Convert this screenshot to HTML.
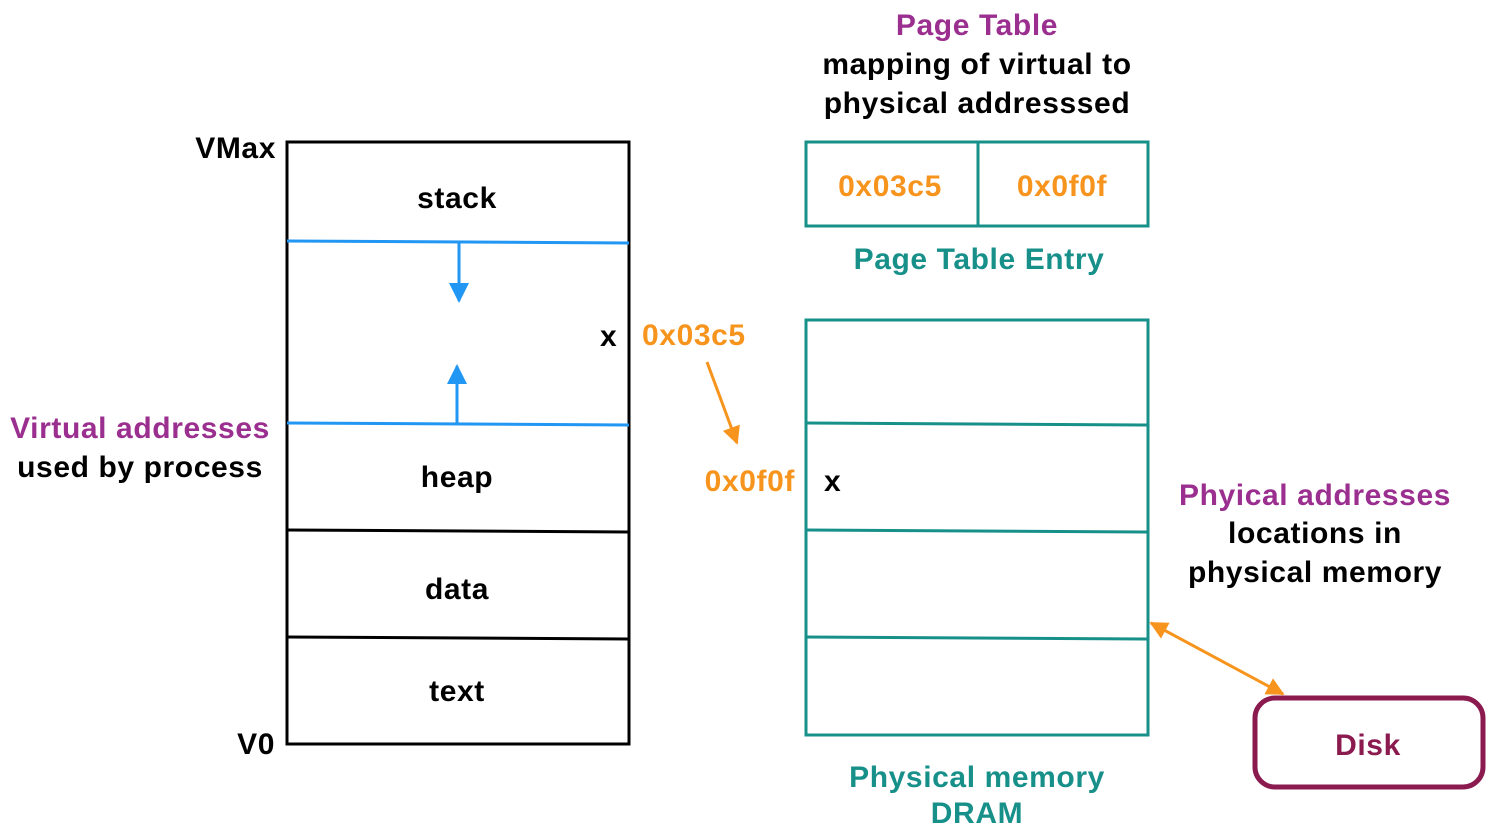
<!DOCTYPE html>
<html><head><style>body{margin:0;background:#fff}svg{display:block}text{font-family:"Liberation Sans",sans-serif;font-weight:bold;font-size:30px;letter-spacing:0.6px}</style></head><body>
<svg width="1490" height="840" viewBox="0 0 1490 840" xmlns="http://www.w3.org/2000/svg">
<defs>
<marker id="o" viewBox="0 0 10 10" refX="9" refY="5" markerWidth="22" markerHeight="18" orient="auto-start-reverse" markerUnits="userSpaceOnUse"><path d="M0,0 L10,5 L0,10 z" fill="#f7941d"/></marker>
<marker id="b" viewBox="0 0 10 10" refX="9" refY="5" markerWidth="26" markerHeight="20" orient="auto" markerUnits="userSpaceOnUse"><path d="M0,0 L10,5 L0,10 z" fill="#2196f3"/></marker>
</defs>
<rect x="287" y="142" width="342" height="602" fill="none" stroke="#000" stroke-width="3"/>
<line x1="287" y1="241" x2="629" y2="243" stroke="#2196f3" stroke-width="3"/>
<line x1="287" y1="423" x2="629" y2="425" stroke="#2196f3" stroke-width="3"/>
<line x1="287" y1="530" x2="629" y2="532" stroke="#000" stroke-width="3"/>
<line x1="287" y1="637" x2="629" y2="639" stroke="#000" stroke-width="3"/>
<line x1="459" y1="243" x2="459" y2="301" stroke="#2196f3" stroke-width="3" marker-end="url(#b)"/>
<line x1="457" y1="425" x2="457" y2="366" stroke="#2196f3" stroke-width="3" marker-end="url(#b)"/>
<g text-anchor="middle">
<text x="457" y="208">stack</text>
<text x="457" y="487">heap</text>
<text x="457" y="599">data</text>
<text x="457" y="701">text</text>
</g>
<g text-anchor="end">
<text x="276" y="158">VMax</text>
<text x="275" y="754">V0</text>
<text x="795" y="491" fill="#f7941d">0x0f0f</text>
</g>
<text x="600" y="346">x</text>
<text x="642" y="345" fill="#f7941d">0x03c5</text>
<line x1="707" y1="362" x2="737" y2="443" stroke="#f7941d" stroke-width="3" marker-end="url(#o)"/>
<text x="824" y="491">x</text>
<g text-anchor="middle">
<text x="140" y="438" fill="#9b2f8f">Virtual addresses</text>
<text x="140" y="477">used by process</text>
<text x="977" y="35" fill="#9b2f8f">Page Table</text>
<text x="977" y="74">mapping of virtual to</text>
<text x="977" y="113">physical addresssed</text>
<text x="890" y="196" fill="#f7941d">0x03c5</text>
<text x="1062" y="196" fill="#f7941d">0x0f0f</text>
<text x="979" y="269" fill="#17908a">Page Table Entry</text>
<text x="977" y="787" fill="#17908a">Physical memory</text>
<text x="977" y="823" fill="#17908a">DRAM</text>
<text x="1315" y="505" fill="#9b2f8f">Phyical addresses</text>
<text x="1315" y="543">locations in</text>
<text x="1315" y="582">physical memory</text>
<text x="1368" y="755" fill="#8b1a4f">Disk</text>
</g>
<rect x="806" y="142" width="342" height="84" fill="none" stroke="#17908a" stroke-width="3"/>
<line x1="978" y1="142" x2="978" y2="226" stroke="#17908a" stroke-width="3"/>
<rect x="806" y="320" width="342" height="415" fill="none" stroke="#17908a" stroke-width="3"/>
<line x1="806" y1="423" x2="1148" y2="425" stroke="#17908a" stroke-width="3"/>
<line x1="806" y1="530" x2="1148" y2="532" stroke="#17908a" stroke-width="3"/>
<line x1="806" y1="637" x2="1148" y2="639" stroke="#17908a" stroke-width="3"/>
<rect x="1255" y="698" width="228" height="89" rx="20" fill="none" stroke="#8b1a4f" stroke-width="5"/>
<line x1="1151" y1="623" x2="1283" y2="694" stroke="#f7941d" stroke-width="3" marker-start="url(#o)" marker-end="url(#o)"/>
</svg>
</body></html>
